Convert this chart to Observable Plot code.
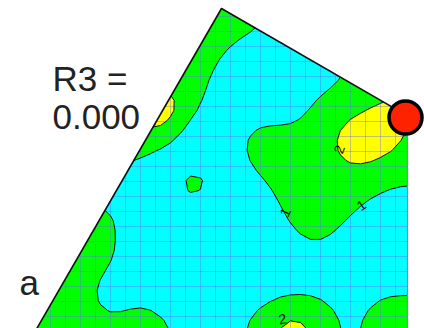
<!DOCTYPE html>
<html><head><meta charset="utf-8">
<script src="https://cdn.jsdelivr.net/npm/d3@7"></script>
<script src="https://cdn.jsdelivr.net/npm/@observablehq/plot@0.6"></script>
<style>
html,body{margin:0;padding:0;background:#fff;}
#chart svg{display:block;}
</style></head><body><div id="chart"></div>
<script>
// Estimated field values: columns x = 0..420 (step 10), rows y = 0..330 (step 10)
// below 1 = cyan, 1–2 = green, above 2 = yellow; run-length "value:count"
const gridCols = 43;
const levelRows = [
  "1:28 0:8 1:7",
  "1:27 0:9 1:7",
  "1:27 0:9 1:7",
  "1:26 0:9 1:8",
  "1:24 0:11 1:8",
  "1:23 0:12 1:8",
  "1:22 0:13 1:8",
  "1:22 0:13 1:8",
  "1:21 0:14 1:8",
  "1:21 0:12 1:10",
  "1:15 2.8:3 1:3 0:11 1:7 2:4",
  "1:15 2.8:3 1:2 0:11 1:6 2:6",
  "1:14 2.8:3 1:2 0:12 1:4 2:6 1:2",
  "1:18 0:7 1:9 2:7 1:2",
  "1:18 0:7 1:9 2:7 1:2",
  "1:16 0:9 1:9 2:6 1:3",
  "1:14 0:11 1:9 2:4 1:5",
  "0:26 1:17",
  "0:19 2.6:2 0:6 1:16",
  "0:19 2.6:1 0:8 1:11 0:4",
  "0:28 1:9 0:6",
  "1:12 0:17 1:7 0:7",
  "1:12 0:17 1:6 0:8",
  "1:12 0:18 1:4 0:9",
  "1:12 0:19 1:2 0:10",
  "1:12 0:31",
  "1:12 0:31",
  "1:11 0:32",
  "1:10 0:33",
  "1:10 0:33",
  "1:10 0:18 1:5 0:5 1:5",
  "1:10 0:3 1:3 0:10 1:8 0:3 1:6",
  "1:17 0:8 1:3 2:3 1:4 -1:1 1:7",
  "1:18 0:7 1:3 2:4 1:3 -1:1 1:7"
];
const thresholds = [0.5, 1.5];
const levelColors = ["#00ffff", "#00ff00", "#ffff00"];

// figure boundary (plot units = pixels of the crop)
const outline = [[29.4, 340], [221, 8], [407, 115.4]];
const rightEdge = [[407, 115.4], [407, 340]];
const outsideMask = [[-10,-10],[434,-10],[434,340],[407,340],[407,115.4],[221,8],[29.4,340],[-10,340]];

const gridX = d3.range(5, 424, 15);
const gridY = d3.range(1, 328, 15);

const labels = [
  {text: "R3 =", x: 52, y: 90},
  {text: "0.000", x: 52, y: 128},
  {text: "a", x: 19, y: 294}
];
const contourLabels = [
  {text: "2", x: 339, y: 149, rotate: -70},
  {text: "1", x: 285, y: 212, rotate: -65},
  {text: "1", x: 361, y: 205, rotate: -35},
  {text: "2", x: 282, y: 319, rotate: -10}
];
const marker = [{x: 405, y: 117}];

const values = levelRows.flatMap(r => r.split(" ").flatMap(t => {
  const [v, n] = t.split(":").map(Number);
  return Array(n).fill(v);
}));

const ext = {width: gridCols, height: levelRows.length, x1: -5, x2: -5 + gridCols * 10, y1: -5, y2: -5 + levelRows.length * 10, blur: 0.6};
const px = d => d[0], py = d => d[1];

const chart = Plot.plot({
  width: 424, height: 328, margin: 0,
  x: {domain: [0, 424], axis: null},
  y: {domain: [328, 0], axis: null},
  color: {type: "threshold", domain: [1], range: [levelColors[1], levelColors[2]]},
  style: {background: "white", fontFamily: "'Liberation Sans', Arial, sans-serif"},
  marks: [
    Plot.frame({fill: levelColors[0], stroke: null}),
    Plot.contour(values, {...ext, fill: Plot.identity, thresholds, stroke: null}),
    Plot.ruleX(gridX, {stroke: "#6a6aff", strokeOpacity: 0.4, strokeWidth: 1}),
    Plot.ruleY(gridY, {stroke: "#6a6aff", strokeOpacity: 0.4, strokeWidth: 1}),
    Plot.contour(values, {...ext, value: Plot.identity, thresholds, fill: "none", stroke: "#111", strokeWidth: 1}),
    Plot.line(outsideMask, {x: px, y: py, fill: "white", stroke: null}),
    Plot.line(outline, {x: px, y: py, stroke: "#111", strokeWidth: 1.6}),
    Plot.line(rightEdge, {x: px, y: py, stroke: "#8a8a8a", strokeWidth: 1.2}),
    Plot.text(labels, {x: "x", y: "y", text: "text", textAnchor: "start", lineAnchor: "bottom", fontSize: 35, fill: "#222"}),
    Plot.text(contourLabels, {x: "x", y: "y", text: "text", rotate: "rotate", fontSize: 14, fill: "#111"}),
    Plot.dot(marker, {x: "x", y: "y", r: 16.5, fill: "#ff2200", stroke: "#000", strokeWidth: 3.5})
  ]
});
document.getElementById("chart").append(chart);
</script>
</body></html>
